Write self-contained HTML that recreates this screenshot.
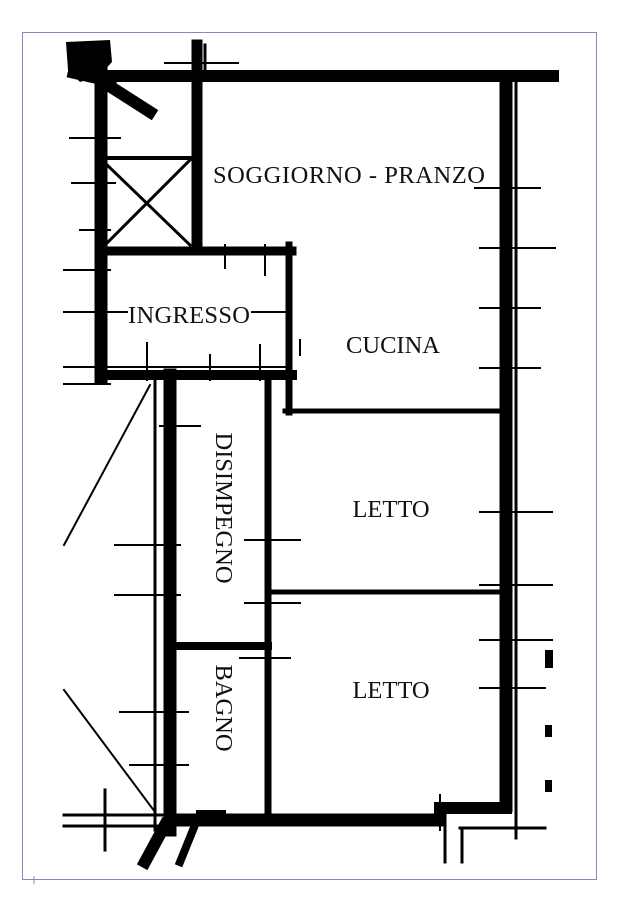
<!DOCTYPE html>
<html><head><meta charset="utf-8"><style>
html,body{margin:0;padding:0;background:#fff;width:636px;height:900px;overflow:hidden}
svg{position:absolute;left:0;top:0}
text{font-family:"Liberation Serif",serif;font-size:24.5px;fill:#111}
</style></head><body>
<svg width="636" height="900" viewBox="0 0 636 900">
<rect x="22.5" y="32.5" width="574" height="847" fill="none" stroke="#8888bb" stroke-width="1"/>
<line x1="34" y1="876" x2="34" y2="884" stroke="#8888bb"/>
<g stroke="#000" stroke-linecap="square" fill="none">
<line x1="95" y1="76" x2="553" y2="76" stroke-width="12"/>
<line x1="101" y1="55" x2="101" y2="378" stroke-width="13"/>
<line x1="197" y1="45" x2="197" y2="250" stroke-width="11"/>
<line x1="101" y1="251" x2="292" y2="251" stroke-width="9"/>
<line x1="289" y1="245" x2="289" y2="412" stroke-width="7"/>
<line x1="101" y1="375" x2="292" y2="375" stroke-width="10"/>
<line x1="506" y1="78" x2="506" y2="806" stroke-width="13"/>
<line x1="285" y1="411" x2="500" y2="411" stroke-width="5"/>
<line x1="170" y1="375" x2="170" y2="830" stroke-width="13"/>
<line x1="268" y1="375" x2="268" y2="820" stroke-width="7"/>
<line x1="268" y1="592" x2="505" y2="592" stroke-width="5"/>
<line x1="170" y1="646" x2="268" y2="646" stroke-width="8"/>
<line x1="170" y1="820" x2="440" y2="820" stroke-width="13"/>
<line x1="440" y1="808" x2="506" y2="808" stroke-width="12"/>
<path d="M66 42 L110 40 L112 62 L100 75 L80 82 L68 70 Z" fill="#000" stroke="none"/>
<line x1="75" y1="72" x2="110" y2="80" stroke-width="14"/>
<line x1="100" y1="80" x2="150" y2="112" stroke-width="12"/>
<line x1="105" y1="158" x2="192" y2="158" stroke-width="4"/>
<line x1="105" y1="245" x2="190" y2="160" stroke-width="3"/>
<line x1="105" y1="163" x2="190" y2="245" stroke-width="3"/>
<line x1="155" y1="380" x2="155" y2="830" stroke-width="3"/>
<line x1="516" y1="80" x2="516" y2="838" stroke-width="3"/>
<line x1="150" y1="385" x2="64" y2="545" stroke-width="2"/>
<line x1="64" y1="690" x2="155" y2="812" stroke-width="2"/>
<line x1="64" y1="815" x2="165" y2="815" stroke-width="3"/>
<line x1="64" y1="826" x2="165" y2="826" stroke-width="3"/>
<line x1="105" y1="790" x2="105" y2="850" stroke-width="3"/>
<line x1="445" y1="820" x2="445" y2="862" stroke-width="3"/>
<line x1="462" y1="830" x2="462" y2="862" stroke-width="3"/>
<line x1="460" y1="828" x2="545" y2="828" stroke-width="3"/>
<line x1="165" y1="825" x2="145" y2="862" stroke-width="12"/>
<line x1="195" y1="825" x2="180" y2="862" stroke-width="8"/>
<line x1="64" y1="367" x2="290" y2="367" stroke-width="2"/>
<line x1="64" y1="384" x2="110" y2="384" stroke-width="2"/>
<line x1="205" y1="45" x2="205" y2="70" stroke-width="3"/>
<line x1="165" y1="63" x2="238" y2="63" stroke-width="2"/>
<g stroke-width="2">
<line x1="70" y1="138" x2="120" y2="138"/><line x1="72" y1="183" x2="115" y2="183"/>
<line x1="80" y1="230" x2="110" y2="230"/><line x1="64" y1="312" x2="128" y2="312"/>
<line x1="252" y1="312" x2="289" y2="312"/><line x1="64" y1="270" x2="110" y2="270"/>
<line x1="475" y1="188" x2="540" y2="188"/><line x1="480" y1="248" x2="555" y2="248"/>
<line x1="480" y1="308" x2="540" y2="308"/><line x1="480" y1="368" x2="540" y2="368"/>
<line x1="480" y1="512" x2="552" y2="512"/><line x1="480" y1="585" x2="552" y2="585"/>
<line x1="480" y1="640" x2="552" y2="640"/><line x1="480" y1="688" x2="545" y2="688"/>
<line x1="115" y1="545" x2="180" y2="545"/><line x1="115" y1="595" x2="180" y2="595"/>
<line x1="120" y1="712" x2="188" y2="712"/><line x1="130" y1="765" x2="188" y2="765"/>
<line x1="245" y1="540" x2="300" y2="540"/><line x1="245" y1="603" x2="300" y2="603"/>
<line x1="240" y1="658" x2="290" y2="658"/><line x1="160" y1="426" x2="200" y2="426"/>
<line x1="265" y1="245" x2="265" y2="275"/><line x1="225" y1="245" x2="225" y2="268"/>
<line x1="147" y1="343" x2="147" y2="380"/><line x1="210" y1="355" x2="210" y2="380"/>
<line x1="260" y1="345" x2="260" y2="380"/><line x1="300" y1="340" x2="300" y2="355"/>
<line x1="440" y1="795" x2="440" y2="830"/>
</g>
<rect x="196" y="810" width="30" height="10" fill="#000" stroke="none"/>
<rect x="545" y="650" width="8" height="18" fill="#000" stroke="none"/>
<rect x="545" y="725" width="7" height="12" fill="#000" stroke="none"/>
<rect x="545" y="780" width="7" height="12" fill="#000" stroke="none"/>
</g>
<rect x="128" y="302" width="123" height="26" fill="#fff"/>
<text x="349" y="183" text-anchor="middle" textLength="272">SOGGIORNO - PRANZO</text>
<text x="189" y="323" text-anchor="middle" textLength="122">INGRESSO</text>
<text x="393" y="353" text-anchor="middle">CUCINA</text>
<text x="391" y="517" text-anchor="middle">LETTO</text>
<text x="391" y="698" text-anchor="middle">LETTO</text>
<text transform="translate(216,508) rotate(90)" text-anchor="middle">DISIMPEGNO</text>
<text transform="translate(216,708) rotate(90)" text-anchor="middle">BAGNO</text>
</svg>
</body></html>
